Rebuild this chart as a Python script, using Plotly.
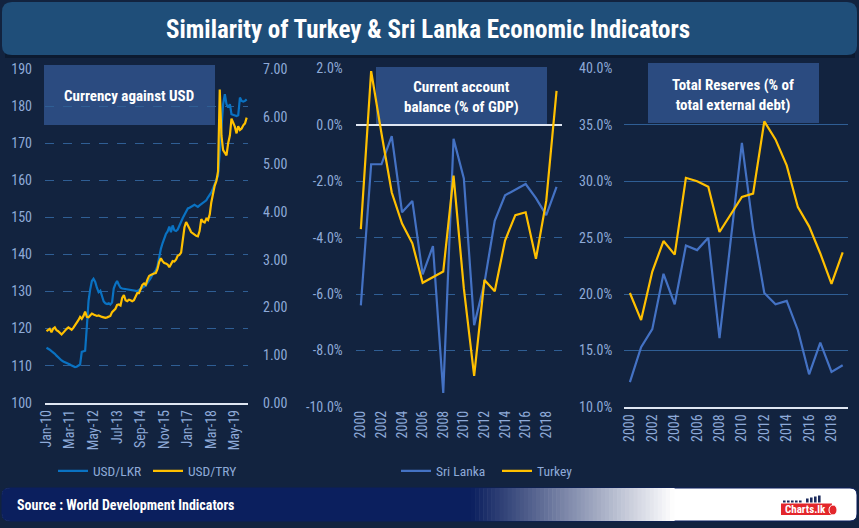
import plotly.graph_objects as go
import pandas as pd

W, H = 859, 528

# ---------------- data ----------------
months = pd.date_range("2010-01-01", periods=120, freq="MS")

usd_lkr = [
    114.8, 114.6, 114.3, 113.9, 113.6, 113.2, 112.7, 112.2, 111.8, 111.4, 111.1, 110.9,
    110.9, 110.7, 110.3, 110.0, 109.8, 109.6, 109.7, 110.0, 110.3, 113.7, 113.8, 114.0,
    120.5, 127.5, 130.5, 132.8, 133.4, 132.6, 131.0, 129.8, 130.2, 128.8, 127.3, 126.8,
    126.6, 126.8, 126.5, 127.0, 130.8, 132.0, 132.8, 131.8, 131.0, 130.8, 130.7, 130.6,
    130.5, 130.5, 130.4, 130.3, 130.2, 130.1, 130.1, 130.4, 130.7, 131.1, 131.4, 131.6,
    132.3, 132.9, 133.6, 134.5, 135.2, 135.7, 136.8, 139.5, 141.5, 143.0, 144.5, 145.5,
    146.2, 147.5, 146.0, 147.8, 146.5, 146.3, 146.7, 147.8, 149.1, 149.8, 150.7, 151.6,
    152.4, 152.6, 152.9, 153.3, 153.4, 153.1, 152.8, 153.2, 153.5, 153.9, 154.1, 154.6,
    155.4, 156.0, 156.7, 157.8, 159.0, 160.0, 161.2, 167.5, 174.5, 180.5, 183.2, 180.5,
    179.6, 180.5, 177.8, 177.6, 177.4, 177.3, 177.5, 182.3, 181.4, 181.2, 181.4, 181.8,
]

usd_try = [
    1.50, 1.52, 1.55, 1.48, 1.55, 1.58, 1.52, 1.50, 1.47, 1.43, 1.47, 1.52,
    1.55, 1.58, 1.56, 1.53, 1.57, 1.62, 1.66, 1.73, 1.80, 1.76, 1.82, 1.91,
    1.80, 1.79, 1.83, 1.87, 1.85, 1.84, 1.82, 1.83, 1.81, 1.80, 1.79, 1.78,
    1.79, 1.80, 1.82, 1.90, 1.93, 1.97, 2.05, 2.06, 2.04, 2.20, 2.26, 2.15,
    2.13, 2.16, 2.15, 2.13, 2.15, 2.22, 2.30, 2.30, 2.40, 2.47, 2.50, 2.47,
    2.58, 2.66, 2.68, 2.70, 2.71, 2.72, 2.80, 2.95, 3.03, 2.97, 2.93, 2.92,
    2.90, 2.84, 2.89, 2.97, 2.96, 3.00, 3.08, 3.10, 3.15, 3.40, 3.68, 3.79,
    3.70, 3.65, 3.58, 3.55, 3.52, 3.50, 3.49, 3.60, 3.85, 3.80, 3.78, 3.86,
    3.83, 3.95, 4.20, 4.40, 4.55, 4.65, 4.85, 6.57, 5.60, 5.30, 5.25, 5.19,
    5.45, 5.61, 5.96, 5.88, 5.79, 5.65, 5.80, 5.72, 5.75, 5.82, 5.86, 5.98,
]

years = list(range(2000, 2020))
ca_sri_lanka = [-6.4, -1.4, -1.4, -0.4, -3.1, -2.7, -5.3, -4.3, -9.5, -0.5,
                -1.9, -7.1, -5.6, -3.4, -2.5, -2.3, -2.1, -2.6, -3.2, -2.2]
ca_turkey = [-3.7, 1.9, -0.3, -2.4, -3.5, -4.2, -5.6, -5.4, -5.2, -1.8,
             -5.8, -8.9, -5.5, -5.9, -4.1, -3.2, -3.1, -4.75, -2.7, 1.2]

res_sri_lanka = [12.2, 15.3, 16.9, 21.8, 19.1, 24.3, 23.9, 25.0, 16.1, 25.0,
                 33.4, 25.8, 20.1, 19.1, 19.4, 16.8, 12.9, 15.7, 13.1, 13.7]
res_turkey = [20.1, 17.7, 22.0, 24.7, 23.5, 30.3, 30.0, 29.5, 25.5, 27.1,
              28.6, 28.9, 35.3, 33.7, 31.4, 27.7, 26.0, 23.6, 20.9, 23.7]

ca_tickvals = [-10, -8, -6, -4, -2, 0, 2]
ca_ticktext = ["-10.0%", "-8.0%", "-6.0%", "-4.0%", "-2.0%", "0.0%", "2.0%"]
year_ticks = list(range(2000, 2019, 2))

# ---------------- style ----------------
FONT = "Liberation Sans Narrow, Roboto Condensed, DejaVu Sans Condensed, Arial Narrow, sans-serif"
BG = "#12233f"
TICK = "#8eaad8"
GRID = "#2f5e94"
BLUE1 = "#0a72c2"
BLUE2 = "#4472c4"
GOLD = "#ffc000"


def px(x):
    return x / W


def py(y):
    return 1 - y / H


fig = go.Figure()

# Panel 1
fig.add_trace(go.Scatter(x=months, y=usd_lkr, name="USD/LKR", mode="lines",
                         line=dict(color=BLUE1, width=2.2), xaxis="x", yaxis="y",
                         legend="legend"))
fig.add_trace(go.Scatter(x=months, y=usd_try, name="USD/TRY", mode="lines",
                         line=dict(color=GOLD, width=2.2), xaxis="x", yaxis="y2",
                         legend="legend"))
# Panel 2
fig.add_trace(go.Scatter(x=years, y=ca_sri_lanka, name="Sri Lanka", mode="lines",
                         line=dict(color=BLUE2, width=2.2), xaxis="x2", yaxis="y3",
                         legend="legend2"))
fig.add_trace(go.Scatter(x=years, y=ca_turkey, name="Turkey", mode="lines",
                         line=dict(color=GOLD, width=2.2), xaxis="x2", yaxis="y3",
                         legend="legend2"))
# Panel 3
fig.add_trace(go.Scatter(x=years, y=res_sri_lanka, name="Sri Lanka", mode="lines",
                         line=dict(color=BLUE2, width=2.2), xaxis="x3", yaxis="y4",
                         showlegend=False))
fig.add_trace(go.Scatter(x=years, y=res_turkey, name="Turkey", mode="lines",
                         line=dict(color=GOLD, width=2.2), xaxis="x3", yaxis="y4",
                         showlegend=False))

tickfont = dict(family=FONT, size=14, color=TICK)

common_x = dict(showgrid=False, zeroline=False, ticks="", tickangle=-90,
                tickfont=tickfont, showline=True, linecolor="#dfe6f2", linewidth=1.5,
                fixedrange=True, automargin=False)
common_y = dict(zeroline=False, ticks="", tickfont=tickfont, showline=False,
                gridcolor=GRID, gridwidth=1, fixedrange=True, automargin=False)

ydom1 = [py(402.7), py(69)]
ydom2 = [py(407), py(68.3)]

fig.update_layout(
    width=W, height=H, autosize=False,
    margin=dict(l=0, r=0, t=0, b=0, pad=0, autoexpand=False),
    paper_bgcolor=BG, plot_bgcolor="rgba(0,0,0,0)",
    font=dict(family=FONT, color=TICK),
    xaxis=dict(common_x, domain=[px(45), px(248)], type="date",
               range=["2009-12-05", "2019-12-25"], tick0="2010-01-01", dtick="M14",
               tickformat="%b-%y", anchor="y"),
    yaxis=dict(common_y, domain=ydom1, range=[100, 190], dtick=10,
               griddash="dash", anchor="x", ticklabelstandoff=12),
    yaxis2=dict(common_y, overlaying="y", side="right", range=[0, 7], dtick=1,
                tickformat=".2f", showgrid=False, anchor="x", ticklabelstandoff=14),
    xaxis2=dict(common_x, domain=[px(355.7), px(561.7)], range=[1999.5, 2019.5],
                tickvals=year_ticks, anchor="y3", showline=False),
    yaxis3=dict(common_y, domain=ydom2, range=[-10, 2], tickvals=ca_tickvals,
                ticktext=ca_ticktext, griddash="dash", anchor="x2",
                zeroline=True, zerolinecolor="#dfe6f2", zerolinewidth=1.5,
                ticklabelstandoff=12),
    xaxis3=dict(common_x, domain=[px(624.3), px(848.3)], range=[1999.5, 2019.5],
                tickvals=year_ticks, anchor="y4"),
    yaxis4=dict(common_y, domain=ydom2, range=[10, 40], dtick=5, tickformat=".1f",
                ticksuffix="%", anchor="x3", ticklabelstandoff=11),
    legend=dict(x=px(53), y=py(471), xanchor="left", yanchor="middle",
                orientation="h", bgcolor="rgba(0,0,0,0)", entrywidth=50,
                entrywidthmode="pixels",
                font=dict(family=FONT, size=13.5, color=TICK), itemwidth=30),
    legend2=dict(x=px(396), y=py(471), xanchor="left", yanchor="middle",
                 orientation="h", bgcolor="rgba(0,0,0,0)", entrywidth=56,
                 entrywidthmode="pixels",
                 font=dict(family=FONT, size=13.5, color=TICK), itemwidth=30),
)

shapes = []
# title bar
shapes.append(dict(type="rect", xref="paper", yref="paper", layer="below",
                   x0=px(5), x1=px(855), y0=py(58), y1=py(53),
                   fillcolor="#0c1a30", line=dict(width=0)))
shapes.append(dict(type="path", xref="paper", yref="paper", layer="below",
                   path=f"M {px(12)} {py(2)} L {px(847)} {py(2)} Q {px(857)} {py(2)} {px(857)} {py(12)} "
                        f"L {px(857)} {py(46)} Q {px(857)} {py(55)} {px(847)} {py(55)} "
                        f"L {px(12)} {py(55)} Q {px(2)} {py(55)} {px(2)} {py(46)} "
                        f"L {px(2)} {py(12)} Q {px(2)} {py(2)} {px(12)} {py(2)} Z",
                   fillcolor="#1f4e79", line=dict(width=0)))

# panel label boxes
for (x0, x1, y0, y1) in [(44, 215, 65, 125), (376, 547, 67, 124), (648, 819, 63, 123)]:
    shapes.append(dict(type="rect", xref="paper", yref="paper", layer="below",
                       x0=px(x0), x1=px(x1), y0=py(y1), y1=py(y0),
                       fillcolor="rgba(48,82,140,0.85)", line=dict(width=0)))

# footer: white rounded base, navy left part, gradient
shapes.append(dict(type="path", xref="paper", yref="paper", layer="below",
                   path=f"M {px(10)} {py(488)} L {px(850)} {py(488)} Q {px(857)} {py(488)} {px(857)} {py(495)} "
                        f"L {px(857)} {py(514)} Q {px(857)} {py(521)} {px(850)} {py(521)} "
                        f"L {px(10)} {py(521)} Q {px(2)} {py(521)} {px(2)} {py(514)} "
                        f"L {px(2)} {py(495)} Q {px(2)} {py(488)} {px(10)} {py(488)} Z",
                   fillcolor="#ffffff", line=dict(color="#0b1f5e", width=1)))
shapes.append(dict(type="path", xref="paper", yref="paper", layer="below",
                   path=f"M {px(10)} {py(488)} L {px(472)} {py(488)} L {px(472)} {py(521)} "
                        f"L {px(10)} {py(521)} Q {px(2)} {py(521)} {px(2)} {py(514)} "
                        f"L {px(2)} {py(495)} Q {px(2)} {py(488)} {px(10)} {py(488)} Z",
                   fillcolor="#0b1f5e", line=dict(width=0)))
n_steps = 50
c0 = (11, 31, 94)
for i in range(n_steps):
    t = (i + 0.5) / n_steps
    col = tuple(int(round(c0[k] + (255 - c0[k]) * t)) for k in range(3))
    xa = 471 + (674 - 471) * i / n_steps
    xb = 471 + (674 - 471) * (i + 1) / n_steps + 0.6
    shapes.append(dict(type="rect", xref="paper", yref="paper", layer="below",
                       x0=px(xa), x1=px(xb), y0=py(521), y1=py(488),
                       fillcolor=f"rgb{col}", line=dict(width=0)))

# logo
shapes.append(dict(type="rect", xref="paper", yref="paper", layer="below",
                   x0=px(781), x1=px(832), y0=py(515), y1=py(503.5),
                   fillcolor="#e3262b", line=dict(width=0)))
for bx, bh in [(783, 2), (787, 2), (791, 2), (795, 2), (799, 2), (806, 4), (810, 5), (814, 6), (818, 7)]:
    shapes.append(dict(type="rect", xref="paper", yref="paper", layer="below",
                       x0=px(bx), x1=px(bx + 2.6), y0=py(502.5), y1=py(502.5 - bh),
                       fillcolor="#1b2a5c", line=dict(width=0)))
shapes.append(dict(type="circle", xref="paper", yref="paper", layer="below",
                   x0=px(829), x1=px(837), y0=py(515), y1=py(505),
                   fillcolor="#e3262b", line=dict(color="#ffffff", width=1)))

fig.update_layout(shapes=shapes)

lab_font = dict(family=FONT, size=15, color="white", weight=700)
annotations = [
    dict(text="Similarity of Turkey & Sri Lanka Economic Indicators", x=px(428), y=py(30),
         xref="paper", yref="paper", showarrow=False, xanchor="center", yanchor="middle",
         font=dict(family=FONT, size=25, color="white", weight=700)),
    dict(text="Currency against USD", x=px(129), y=py(96), xref="paper", yref="paper",
         showarrow=False, xanchor="center", yanchor="middle", font=lab_font),
    dict(text="Current account<br>balance (% of GDP)", x=px(461), y=py(97), xref="paper",
         yref="paper", showarrow=False, xanchor="center", yanchor="middle", font=lab_font),
    dict(text="Total Reserves (% of<br>total external debt)", x=px(733), y=py(95),
         xref="paper", yref="paper", showarrow=False, xanchor="center", yanchor="middle",
         font=lab_font),
    dict(text="Source : World Development Indicators", x=px(15), y=py(504.5), xref="paper",
         yref="paper", showarrow=False, xanchor="left", yanchor="middle",
         font=dict(family=FONT, size=14, color="white", weight=700)),
    dict(text="Charts.lk", x=px(805), y=py(509.5), xref="paper", yref="paper",
         showarrow=False, xanchor="center", yanchor="middle",
         font=dict(family=FONT, size=11, color="white", weight=700)),
]
fig.update_layout(annotations=annotations)

fig.write_html(
    "out.html",
    config={"displayModeBar": False},
    post_script="document.body.style.margin='0px';document.body.style.background='#12233f';",
)
